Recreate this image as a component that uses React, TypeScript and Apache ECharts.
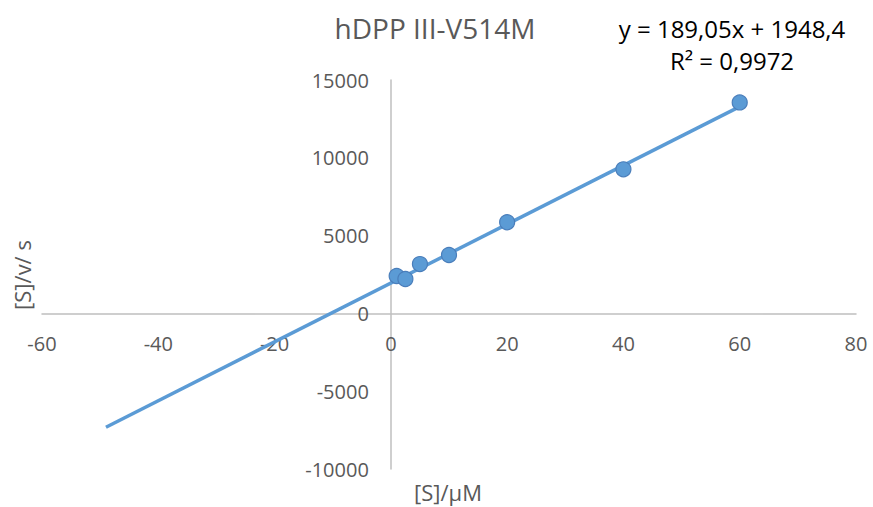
import React, { useEffect, useRef } from "react";
import * as echarts from "echarts";

const substrate = [1, 2.5, 5, 10, 20, 40, 60];
const sOverV = [2400, 2210, 3170, 3750, 5860, 9260, 13560];
const trendSlope = 189.05;
const trendIntercept = 1948.4;
const trendRange = [-49, 60];
const xMin = -60, xMax = 80, xStep = 20;
const yMin = -10000, yMax = 15000, yStep = 5000;
const titleText = "hDPP III-V514M";
const equationText = "y = 189,05x + 1948,4";
const r2Text = "R² = 0,9972";
const xName = "[S]/μM";
const yName = "[S]/v/ s";

const FONT = "'Open Sans', 'Liberation Sans', sans-serif";
const GRAY = "#595959";
const BLUE = "#5b9bd5";

const W = 873, H = 507;
const GL = 42, GR = 17, GT = 80, GB = 38;

export default function App() {
  const ref = useRef<HTMLDivElement>(null);
  useEffect(() => {
    if (!ref.current) return;
    const chart = echarts.init(ref.current, undefined, { renderer: "svg" });
    const points = substrate.map((x, i) => [x, sOverV[i]]);
    const trend = trendRange.map((x) => [x, trendSlope * x + trendIntercept]);
    const gridW = W - GL - GR;
    const gridH = H - GT - GB;
    const xOffset = -gridH * (0 - yMin) / (yMax - yMin);
    const yOffset = -gridW * (0 - xMin) / (xMax - xMin);
    chart.setOption({
      animation: false,
      backgroundColor: "#ffffff",
      grid: { left: GL, right: GR, top: GT, bottom: GB, containLabel: false, outerBoundsMode: "none" },
      xAxis: {
        type: "value",
        min: xMin,
        max: xMax,
        interval: xStep,
        offset: xOffset,
        axisLine: { show: true, onZero: false, lineStyle: { color: "#bfbfbf", width: 1.5 } },
        axisTick: { show: false },
        splitLine: { show: false },
        axisLabel: { color: GRAY, fontSize: 20, fontFamily: FONT, margin: 20, formatter: (v: number) => String(v) },
      },
      yAxis: {
        type: "value",
        min: yMin,
        max: yMax,
        interval: yStep,
        offset: yOffset,
        axisLine: { show: true, onZero: false, lineStyle: { color: "#bfbfbf", width: 1.5 } },
        axisTick: { show: false },
        splitLine: { show: false },
        axisLabel: { color: GRAY, fontSize: 20, fontFamily: FONT, margin: 22, formatter: (v: number) => String(v) },
      },
      series: [
        {
          type: "line",
          data: trend,
          showSymbol: false,
          symbol: "none",
          lineStyle: { color: BLUE, width: 3.5 },
          z: 2,
        },
        {
          type: "scatter",
          data: points,
          symbol: "circle",
          symbolSize: 15,
          itemStyle: { color: BLUE, opacity: 1, borderColor: "#4a7ebb", borderWidth: 1.2 },
          z: 3,
        },
      ],
      graphic: [
        {
          type: "text",
          x: 435,
          y: 28,
          style: {
            text: titleText,
            fill: GRAY,
            font: `28px ${FONT}`,
            textAlign: "center",
            textVerticalAlign: "middle",
          },
        },
        {
          type: "text",
          x: 732,
          y: 28,
          style: {
            text: equationText,
            fill: "#000000",
            font: `24px ${FONT}`,
            textAlign: "center",
            textVerticalAlign: "middle",
          },
        },
        {
          type: "text",
          x: 732,
          y: 60,
          style: {
            text: r2Text,
            fill: "#000000",
            font: `24px ${FONT}`,
            textAlign: "center",
            textVerticalAlign: "middle",
          },
        },
        {
          type: "text",
          x: 448,
          y: 492,
          style: {
            text: xName,
            fill: GRAY,
            font: `22px ${FONT}`,
            textAlign: "center",
            textVerticalAlign: "middle",
          },
        },
        {
          type: "text",
          x: 22,
          y: 275,
          rotation: Math.PI / 2,
          style: {
            text: yName,
            fill: GRAY,
            font: `22px ${FONT}`,
            textAlign: "center",
            textVerticalAlign: "middle",
          },
        },
      ],
    });
    return () => chart.dispose();
  }, []);
  return <div ref={ref} style={{ width: W, height: H, position: "absolute", left: 0, top: 0 }} />;
}
